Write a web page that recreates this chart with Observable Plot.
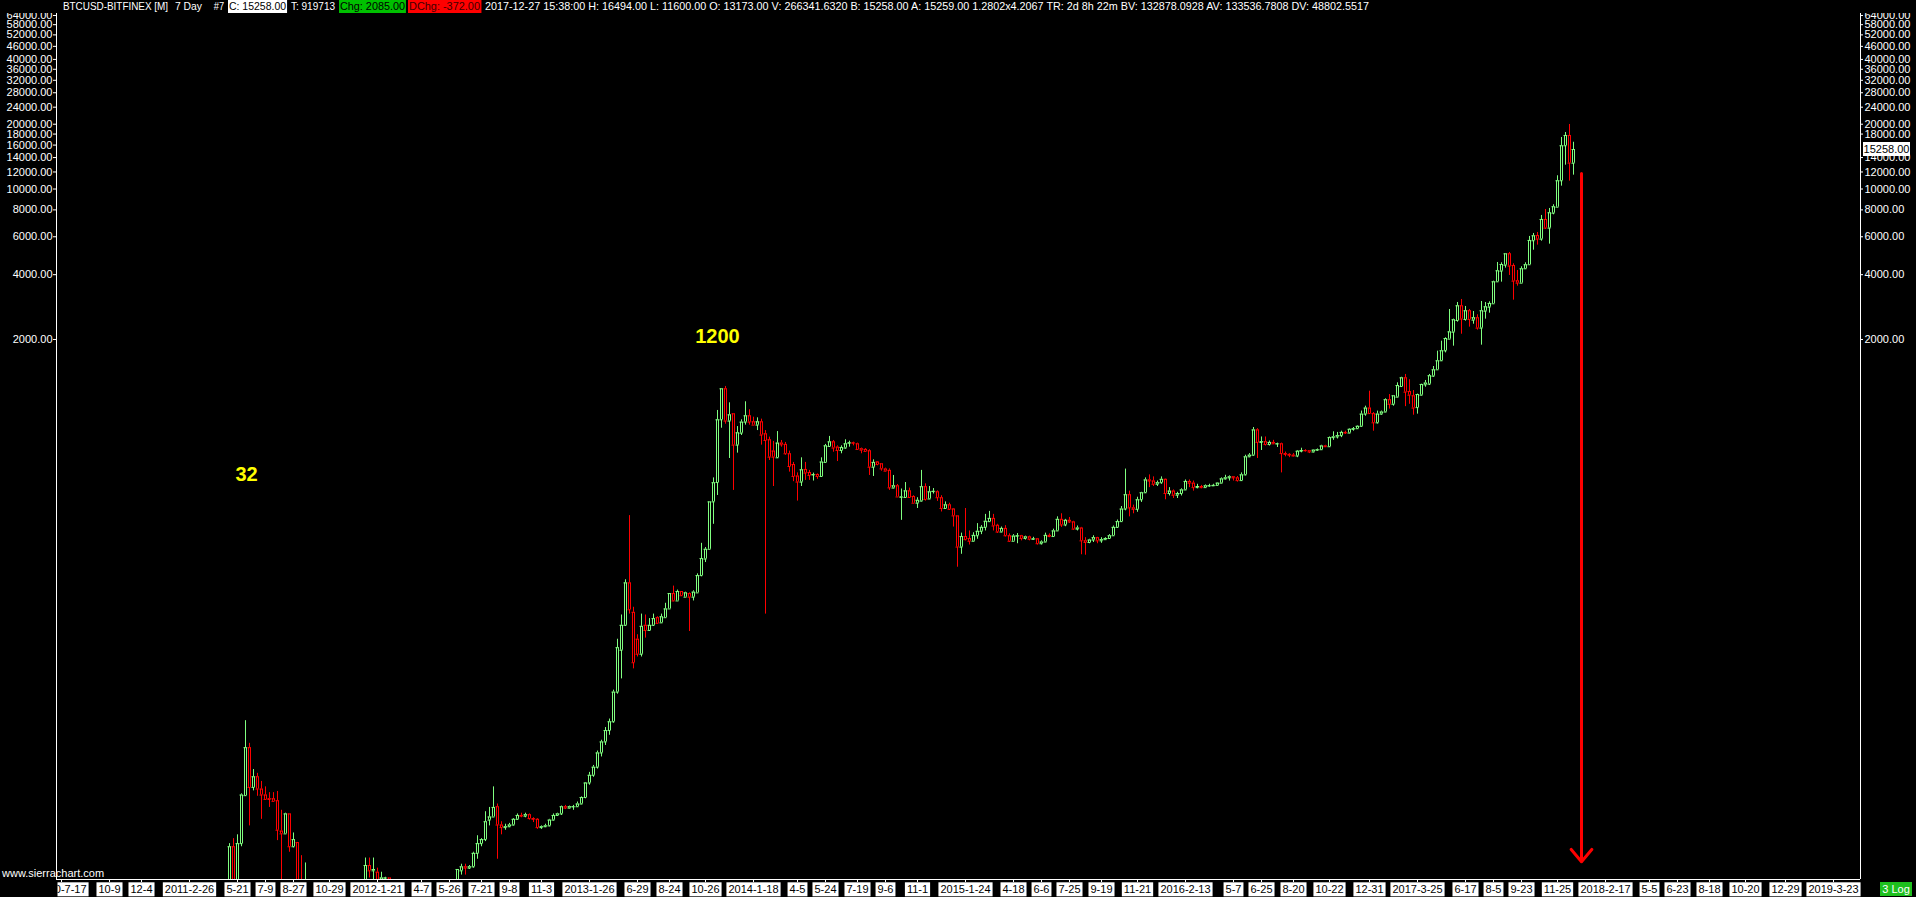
<!DOCTYPE html>
<html><head><meta charset="utf-8">
<script src="https://cdn.jsdelivr.net/npm/d3@7"></script>
<script src="https://cdn.jsdelivr.net/npm/@observablehq/plot@0.6"></script>
<style>
html,body{margin:0;padding:0;background:#000;overflow:hidden}
#wrap{position:relative;width:1916px;height:897px;background:#000;font-family:"Liberation Sans",Arial,sans-serif}
#chart{position:absolute;left:0;top:0}
#hdr{position:absolute;left:0;top:0;width:1916px;height:13px;background:#000;color:#fff;font-size:11px;line-height:13px;white-space:pre;z-index:2}
#hdr .seg{position:absolute;top:0;height:13px;transform-origin:0 0;padding:0 1px}
.ov{position:absolute;font-size:11px;line-height:14px;white-space:pre;z-index:3}
</style></head><body>
<div id="wrap">
<div id="chart"></div>
<div id="hdr">
<span class="seg" style="left:62px" data-w="107">BTCUSD-BITFINEX [M]</span>
<span class="seg" style="left:174px" data-w="29">7 Day</span>
<span class="seg" style="left:213px" data-w="12">#7</span>
<span class="seg" style="left:228px;background:#fff;color:#000" data-w="59">C: 15258.00</span>
<span class="seg" style="left:290px" data-w="46">T: 919713</span>
<span class="seg" style="left:339px;background:#00c000;color:#000" data-w="67">Chg: 2085.00</span>
<span class="seg" style="left:408px;background:#ff0000;color:#400000" data-w="73">DChg: -372.00</span>
<span class="seg" style="left:484px" data-w="886">2017-12-27 15:38:00 H: 16494.00 L: 11600.00 O: 13173.00 V: 266341.6320 B: 15258.00 A: 15259.00 1.2802x4.2067 TR: 2d 8h 22m BV: 132878.0928 AV: 133536.7808 DV: 48802.5517</span>
</div>
<div class="ov" style="left:2px;top:866px;color:#fff">www.sierrachart.com</div>
<div class="ov" id="lastbox" style="left:1863px;width:47px;height:14px;background:#fff;color:#000;text-align:center"></div>
<div class="ov" style="left:1880px;top:882px;width:32px;height:14px;background:#1ec01e;color:#fff;text-align:center">3 Log</div>
</div>
<script>
// ---- DATA: weekly candles [open, high, low, close], bar slots are consecutive from each segment start
const segmentStart = [43, 77, 129, 172, 224, 276, 328];
const bars2011 = [
[3.9,9.1,3.8,8.8],[8.8,9.6,5.5,5.6],[5.7,10.0,5.6,9.1],[9.1,15.5,8.8,15.3],[15.2,33.9,15.1,25.4],
[25.4,26.6,11.0,16.6],[16.6,20.1,16.0,18.6],[18.6,19.3,15.1,16.3],[16.3,17.7,11.8,15.3],[15.3,16.7,14.6,14.6],
[14.7,15.7,13.4,14.6],[14.7,15.7,14.3,14.3],[14.4,15.9,9.4,10.5],[10.4,13.0,6.0,10.1],[10.1,12.6,10.1,12.5],
[12.5,12.5,8.3,8.8],[8.8,10.2,8.7,9.5],[9.2,9.2,5.6,5.8],[5.8,8.0,4.8,5.2],[5.0,7.4,4.8,5.5],
[5.5,5.9,4.9,5.0],[5.0,5.1,4.6,4.8],[4.8,4.9,3.8,4.0],[4.0,4.1,3.5,3.9],[3.9,3.9,3.0,3.2],
[3.2,3.6,3.0,3.3],[3.3,3.4,2.9,3.0],[3.0,3.1,2.6,2.8],[2.8,2.9,2.1,2.3],[2.3,2.6,2.2,2.5],
[2.5,3.2,2.5,3.0],[3.0,3.3,2.9,3.2],[3.2,3.9,3.1,3.8],[3.8,4.4,3.7,4.2]
];
const bars2012 = [
[4.7,7.8,4.6,7.2],[7.2,7.8,6.3,6.8],[6.8,7.8,6.2,6.9],[6.7,7.0,5.9,6.2],[6.2,6.7,6.0,6.3],
[6.3,6.35,6.1,6.3],[6.3,6.3,5.9,6.1],[6.0,6.1,4.8,5.2],[5.2,5.3,4.3,4.9],[4.9,5.0,4.6,4.8],
[4.8,5.0,4.7,4.9],[4.9,5.3,4.8,5.2],[5.2,5.4,4.8,4.9],[4.9,5.0,4.8,4.9],[4.9,5.0,4.8,4.95],
[4.95,5.0,4.8,4.9],[4.9,5.2,4.9,5.1],[5.1,5.2,5.0,5.1],[5.1,5.2,4.95,5.0],[5.0,5.1,4.9,5.05],
[5.05,5.15,5.0,5.1],[5.1,5.3,5.05,5.25],[5.25,5.9,5.2,5.8],[5.8,6.9,5.7,6.9],[6.8,7.3,6.5,7.1],
[7.1,7.3,6.5,7.0],[7.0,7.2,6.9,7.1],[7.1,8.3,7.0,8.2],[8.2,9.9,7.7,9.1],[9.1,9.6,8.8,9.5],
[9.5,12.8,9.3,11.5],[11.7,13.4,11.0,12.1],[12.1,16.7,12.1,13.4],[13.5,13.9,7.7,11.1],[11.1,11.5,10.0,10.8],
[10.8,11.2,10.5,10.9],[10.9,11.3,10.8,11.1],[11.1,11.9,11.0,11.8],[11.8,12.5,11.7,12.3],[12.3,12.6,12.0,12.2],
[12.2,12.6,12.0,12.4],[12.4,12.5,11.7,11.9],[11.9,12.0,11.4,11.8],[11.8,11.9,10.6,10.8],[10.8,11.0,10.6,10.9],
[10.9,11.2,10.8,11.0],[11.0,11.8,10.9,11.7],[11.7,12.5,11.6,12.3],[12.3,12.6,12.2,12.5],[12.5,13.6,12.3,13.5],
[13.5,13.7,13.1,13.3],[13.3,13.6,13.2,13.5]
];
const bars2013 = [
[13.5,13.7,13.0,13.5],[13.5,14.2,13.4,13.9],[13.9,15.0,13.8,14.9],[14.9,17.5,14.7,17.4],[17.4,19.5,17.0,18.9],
[18.9,21.0,18.5,20.6],[20.6,24.5,20.2,24.0],[24.0,27.5,23.0,27.0],[27.0,31.5,26.0,30.5],[30.5,34.5,29.0,33.5],
[33.5,47,33,46],[46,81,45,74],[72,105,53,94],[94,153,93,148],[148,304,106,111],
[108,114,59,63],[81,85,67,69],[69,106,67,93],[94,105,82,89],[89,101,88,94],
[94,106,93,101],[102,103,95.5,96],[96.5,106,96,103],[102,119,102,112],[112,132,112,132],
[132,143,121,122],[122,137,122,135],[135,135,128,129],[127,134,127,133],[132,133,88,127],
[127,136,122,134],[133,163,133,160],[160,226,158,192],[191,216,184,212],[212,352,212,352],
[352,455,277,432],[433,936,377,847],[847,1180,774,1180],[1180,1210,808,835],[835,1016,560,893],
[903,903,398,646],[646,788,593,737],[734,847,716,826]
];
const bars2014 = [
[826,1027,800,884],[884,943,800,826],[829,871,800,800],[800,865,755,829],[829,853,646,719],
[729,755,106,679],[684,704,548,568],[606,672,415,568],[564,747,560,660],[660,679,632,648],
[651,665,580,589],[589,606,484,514],[525,537,437,462],[464,480,355,435],[435,564,415,496],
[498,537,443,479],[482,493,443,467],[470,479,440,471],[472,475,448,462],[462,564,462,539],
[537,651,537,641],[637,709,632,669],[669,679,599,626],[632,641,542,610],[610,641,589,630],
[626,684,619,655],[660,674,632,662],[662,667,641,660],[655,660,617,617],[621,626,589,612],
[617,623,604,604],[608,615,467,510],[510,552,462,537],[539,542,518,525],[529,529,489,501],
[500,505,486,489],[493,501,398,409],[408,467,405,418],[418,424,371,371],[370,404,289,371],
[369,433,365,396],[396,408,365,369],[373,376,347,347],[347,368,328,358],[355,493,352,414],
[414,427,355,361],[363,415,361,392],[393,406,383,394],[392,396,354,368],[368,376,316,328],
[328,352,326,341],[341,347,321,325]
];
const bars2015 = [
[326,328,269,303],[303,303,175,217],[217,252,201,243],[243,328,232,235],[238,258,222,231],
[231,253,230,246],[245,279,236,257],[257,273,248,268],[268,308,258,286],[285,318,284,295],
[295,308,258,272],[274,277,251,255],[255,269,253,265],[265,273,242,245],[245,250,228,231],
[231,248,231,244],[244,251,225,245],[245,246,232,238],[238,244,234,242],[242,244,232,236],
[236,241,234,237],[237,238,222,225],[225,232,222,229],[229,252,228,246],[246,250,240,243],
[243,263,242,258],[258,300,257,292],[292,310,268,275],[275,292,270,289],[289,298,280,284],
[284,286,260,263],[263,272,258,266],[266,268,200,232],[232,240,199,228],[228,236,225,234],
[234,245,228,240],[240,241,225,232],[232,240,226,235],[235,240,234,238],[238,248,236,245],
[245,272,244,268],[268,290,265,285],[285,335,283,326],[326,500,320,380],[380,395,300,330],
[330,340,310,325],[325,370,315,360],[360,390,350,388],[388,455,385,445],[445,470,410,440],
[440,460,415,425],[425,440,415,432]
];
const bars2016 = [
[432,460,425,448],[448,450,360,385],[385,410,375,395],[395,400,365,378],[378,390,365,385],
[385,405,375,400],[400,445,398,438],[438,445,410,430],[430,440,395,410],[410,425,405,415],
[415,420,405,410],[410,422,408,418],[418,425,412,418],[418,425,415,420],[420,432,418,430],
[430,455,428,450],[450,468,445,455],[455,465,440,460],[460,462,440,455],[455,462,435,442],
[442,480,438,470],[470,580,465,570],[570,590,565,580],[580,780,575,760],[760,770,560,665],
[665,705,610,670],[670,705,640,650],[650,675,640,665],[665,680,650,655],[655,660,630,655],
[655,660,480,590],[590,600,570,585],[585,590,565,580],[580,590,570,575],[575,610,565,605],
[605,625,595,610],[610,615,600,608],[608,610,590,600],[600,615,595,612],[612,620,605,615],
[615,645,612,640],[640,645,630,635],[635,705,632,700],[700,745,680,705],[705,740,690,715],
[715,750,700,740],[740,750,725,735],[735,770,730,765],[765,780,750,770],[770,795,765,790],
[790,930,785,900],[900,980,880,960]
];
const bars2017 = [
[960,1150,900,905],[905,915,750,820],[820,930,810,900],[900,930,890,920],[920,1060,915,1050],
[1050,1110,950,1000],[1000,1095,980,1095],[1079,1258,1075,1222],[1209,1335,1200,1327],[1327,1376,975,1138],
[1146,1300,1000,1102],[1095,1158,890,960],[965,1115,900,1110],[1102,1240,1095,1236],[1231,1290,1200,1254],
[1240,1376,1222,1357],[1351,1498,1335,1446],[1446,1765,1446,1592],[1592,1964,1580,1772],[1772,2036,1733,2021],
[2007,2757,2007,2170],[2162,2486,1862,2469],[2450,2971,2406,2868],[2868,3068,2116,2486],[2477,2847,2433,2719],
[2719,2757,2282,2477],[2459,2698,2355,2523],[2523,2605,2210,2258],[2258,3003,1882,2719],[2707,2971,2486,2837],
[2826,2992,2650,2940],[2930,3732,2930,3706],[3706,4558,3693,4170],[4153,4542,3693,4460],[4428,5000,4290,5000],
[5000,5073,3967,4383],[4413,4494,3046,3732],[3745,4184,3538,3653],[3653,4353,3653,4260],[4260,4542,4243,4448],
[4448,6021,4448,5768],[5749,6216,5198,6063],[6084,6282,5488,5849],[5849,7537,5723,7219],[7219,8034,6489,6580],
[6580,8123,5545,7755],[7722,8450,7590,8272],[8235,11522,8235,10922],[10922,17354,10311,15882],[15882,18306,12904,17732],
[17732,19945,10876,13188],[13173,16494,11600,15258]
];
// x-axis tick labels (bar slot -> label)
const tickSlots = [1,13,21,33,45,52,59,68,80,91,98,106,113,121,133,145,153,162,174,185,192,200,207,215,227,239,246,253,261,270,282,294,301,309,318,328,340,352,359,366,375,387,398,405,413,422,432,444];
const tickLabels = ["2010-7-17","10-9","12-4","2011-2-26","5-21","7-9","8-27","10-29","2012-1-21","4-7","5-26","7-21","9-8","11-3","2013-1-26","6-29","8-24","10-26","2014-1-18","4-5","5-24","7-19","9-6","11-1","2015-1-24","4-18","6-6","7-25","9-19","11-21","2016-2-13","5-7","6-25","8-20","10-22","12-31","2017-3-25","6-17","8-5","9-23","11-25","2018-2-17","5-5","6-23","8-18","10-20","12-29","2019-3-23"];
// price axis ticks (16000 on the right is covered by the last-price box)
const yTicks = [2000,4000,6000,8000,10000,12000,14000,16000,18000,20000,24000,28000,32000,36000,40000,46000,52000,58000,64000];
const yTicksRight = [2000,4000,6000,8000,10000,12000,14000,18000,20000,24000,28000,32000,36000,40000,46000,52000,58000,64000];
// annotations
const annoText = ["32", "1200"];
const annoSlot = [47.25, 165];
const annoValue = [472, 2064];
const arrowSlot = [381];
const arrowFrom = [11810];
const arrowTo = [7.5];
const lastPrice = 15258;

// ---- build
const segments = [bars2011, bars2012, bars2013, bars2014, bars2015, bars2016, bars2017];
const bars = segments.flatMap((seg, k) => seg.map((r, i) => ({slot: segmentStart[k] + i, open: r[0], high: r[1], low: r[2], close: r[3]})));
const GREEN = "#80ff80", RED = "#ff0000";
const col = d => d.close >= d.open ? GREEN : RED;
const hi = d => Math.max(d.open, d.close), lo = d => Math.min(d.open, d.close);
const X0 = -0.25, X1 = 450.75;
const fmt = d => d.toFixed(2);

const plot = Plot.plot({
  width: 1916, height: 897,
  marginLeft: 56, marginRight: 56, marginTop: 0, marginBottom: 18,
  style: {background: "black", color: "white", fontFamily: "Liberation Sans, Arial, sans-serif", fontSize: "11px"},
  x: {type: "linear", domain: [X0, X1], axis: null},
  y: {type: "log", domain: [6.2, 75120], axis: null},
  color: {type: "identity"},
  marks: [
    Plot.ruleX(bars, {x: "slot", y1: hi, y2: "high", stroke: col, clip: true}),
    Plot.ruleX(bars, {x: "slot", y1: "low", y2: lo, stroke: col, clip: true}),
    Plot.ruleX(bars, {x: d => d.slot - 0.25, y1: "open", y2: "close", stroke: col, clip: true}),
    Plot.ruleX(bars, {x: d => d.slot + 0.25, y1: "open", y2: "close", stroke: col, clip: true}),
    Plot.ruleY(bars, {y: "open", x1: d => d.slot - 0.25, x2: d => d.slot + 0.25, stroke: col, strokeLinecap: "square", clip: true}),
    Plot.ruleY(bars, {y: "close", x1: d => d.slot - 0.25, x2: d => d.slot + 0.25, stroke: col, strokeLinecap: "square", clip: true}),
    Plot.text(annoText.map((t, i) => i), {x: i => annoSlot[i], y: i => annoValue[i], text: i => annoText[i], fill: "#ffff00", fontSize: 20, fontWeight: "bold"}),
    Plot.arrow(arrowSlot.map((s, i) => i), {x1: i => arrowSlot[i], x2: i => arrowSlot[i], y1: i => arrowFrom[i], y2: i => arrowTo[i], stroke: "#ff0000", strokeWidth: 3, headLength: 8, headAngle: 80}),
    // frame lines
    Plot.ruleX([X0, X1], {x: d => d, stroke: "white"}),
    Plot.ruleY([6.2], {y: d => d, stroke: "white"}),
    // left price scale
    Plot.ruleY(yTicks, {y: d => d, x1: () => X0 - 0.75, x2: () => X0, stroke: "white"}),
    Plot.text(yTicks, {x: () => X0, y: d => d, text: fmt, textAnchor: "end", dx: -4, fill: "white", fontSize: 11}),
    // right price scale
    Plot.ruleY(yTicksRight, {y: d => d, x1: () => X1, x2: () => X1 + 0.75, stroke: "white"}),
    Plot.text(yTicksRight, {x: () => X1, y: d => d, text: fmt, textAnchor: "start", dx: 4, fill: "white", fontSize: 11}),
    // time scale
    Plot.axisX({ticks: tickSlots, tickFormat: d => tickLabels[tickSlots.indexOf(d)], tickSize: 3, tickPadding: 3, label: null, stroke: "white", fill: "black", fontSize: 11})
  ]
});
document.getElementById("chart").appendChild(plot);

// white boxes behind the x tick labels, clipped at the left edge of the chart
const ns = "http://www.w3.org/2000/svg";
const xlab = plot.querySelector('g[aria-label="x-axis tick label"]');
if (xlab) {
  for (const t of [...xlab.querySelectorAll("text")]) {
    const b = t.getBBox();
    const r = document.createElementNS(ns, "rect");
    r.setAttribute("x", b.x - 2); r.setAttribute("y", b.y - 1);
    r.setAttribute("width", b.width + 4); r.setAttribute("height", 14);
    r.setAttribute("fill", "white");
    if (t.getAttribute("transform")) r.setAttribute("transform", t.getAttribute("transform"));
    t.parentNode.insertBefore(r, t);
  }
  const defs = document.createElementNS(ns, "defs");
  const cp = document.createElementNS(ns, "clipPath"); cp.setAttribute("id", "xclip");
  const cr = document.createElementNS(ns, "rect");
  cr.setAttribute("x", 57); cr.setAttribute("y", 0); cr.setAttribute("width", 1859); cr.setAttribute("height", 897);
  cp.appendChild(cr); defs.appendChild(cp); plot.insertBefore(defs, plot.firstChild);
  xlab.setAttribute("clip-path", "url(#xclip)");
}
// current price box on the right axis
const lb = document.getElementById("lastbox");
lb.textContent = lastPrice.toFixed(2);
lb.style.top = (plot.scale("y").apply(lastPrice) - 7) + "px";
// header segments fitted to their measured widths
for (const s of document.querySelectorAll("#hdr .seg")) {
  const w = s.getBoundingClientRect().width;
  s.style.transform = `scaleX(${(+s.dataset.w) / w})`;
}
</script>
</body></html>
